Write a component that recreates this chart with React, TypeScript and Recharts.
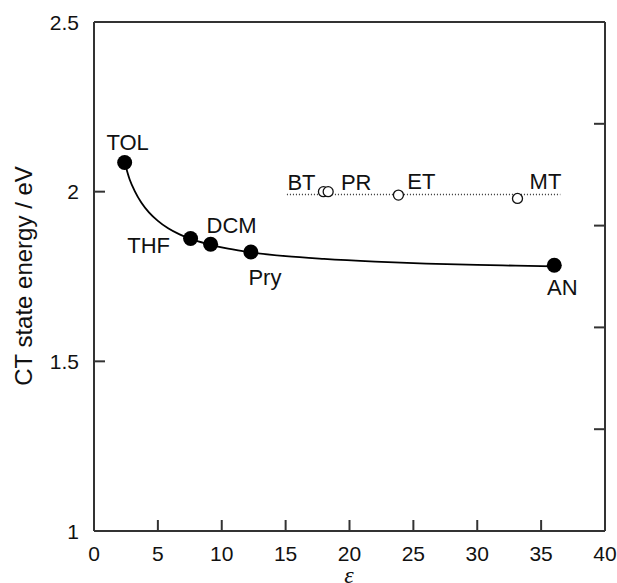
import React from "react";
import {
  ComposedChart, Line, Scatter, XAxis, YAxis,
} from "recharts";

// filled points: solvents on the fitted curve
const solidNames = ["TOL", "THF", "DCM", "Pry", "AN"];
const solidEps = [2.4, 7.56, 9.13, 12.28, 36.03];
const solidEnergy = [2.086, 1.862, 1.845, 1.822, 1.783];

// open points
const openNames = ["BT", "PR", "ET", "MT"];
const openEps = [17.96, 18.33, 23.83, 33.15];
const openEnergy = [2.0, 2.0, 1.99, 1.98];

// fitted curve
const curveEps = [2.4, 2.8, 3.2, 3.7, 4.3, 5, 5.8, 6.7, 7.6, 9, 10.5, 12.3, 15, 18, 22, 26, 30, 33, 36];
const curveEnergy = [2.086, 2.035, 2.001, 1.968, 1.939, 1.914, 1.892, 1.874, 1.86, 1.845, 1.832, 1.821, 1.81, 1.802, 1.794, 1.788, 1.784, 1.782, 1.78];

// dotted level line
const dottedEps = [15.1, 36.5];
const dottedEnergy = [1.992, 1.992];

const xTicks = [0, 5, 10, 15, 20, 25, 30, 35, 40];
const yTicks = [1, 1.5, 2, 2.5];
const rightTicks = [1.3, 1.6, 1.9, 2.2];

// label offsets (px) from each marker
const labelOffset: Record<string, [number, number]> = {
  TOL: [3, -20],
  THF: [-42, 7],
  DCM: [21, -19],
  Pry: [14, 25],
  AN: [8, 22],
  BT: [-22, -10],
  PR: [28, -10],
  ET: [23, -14],
  MT: [28, -17],
};

const FONT = "Liberation Sans, Arial, sans-serif";
const INK = "#333";

const solid = solidNames.map((n, i) => ({ name: n, x: solidEps[i], y: solidEnergy[i] }));
const open = openNames.map((n, i) => ({ name: n, x: openEps[i], y: openEnergy[i] }));
const curve = curveEps.map((x, i) => ({ x, y: curveEnergy[i] }));
const dotted = dottedEps.map((x, i) => ({ x, y: dottedEnergy[i] }));

function PointLabel({ cx, cy, name }: { cx: number; cy: number; name: string }) {
  const [dx, dy] = labelOffset[name] || [0, 0];
  return (
    <text x={cx + dx} y={cy + dy} dy="0.36em" textAnchor="middle" fontFamily={FONT} fontSize={22} fill="#111">
      {name}
    </text>
  );
}

const BottomTick = (props: any) => {
  const x = Number(props.x);
  const y = Number(props.y);
  return (
    <g>
      <line x1={x} x2={x} y1={y - 15} y2={y - 26} stroke={INK} strokeWidth={2} />
      <text x={x} y={y} dy="0.71em" textAnchor="middle" fontFamily={FONT} fontSize={21} fill="#111">
        {props.payload.value}
      </text>
    </g>
  );
};

const LeftTick = (props: any) => {
  const x = Number(props.x);
  const y = Number(props.y);
  return (
    <g>
      <line x1={x + 15} x2={x + 26} y1={y} y2={y} stroke={INK} strokeWidth={2} />
      <text x={x} y={y} dy="0.36em" textAnchor="end" fontFamily={FONT} fontSize={21} fill="#111">
        {props.payload.value}
      </text>
    </g>
  );
};

const RightTick = (props: any) => {
  const x = Number(props.x);
  const y = Number(props.y);
  return <line x1={x} x2={x - 11} y1={y} y2={y} stroke={INK} strokeWidth={2} />;
};

export default function App() {
  return (
    <div style={{ position: "relative", width: 617, height: 583, background: "#fff", overflow: "hidden" }}>
      <style>{"body{margin:0;overflow:hidden}"}</style>
      <ComposedChart width={617} height={583} margin={{ top: 21, right: 11, bottom: 0, left: 0 }}>
        <XAxis xAxisId={0} dataKey="x" type="number" domain={[0, 40]} ticks={xTicks} height={52} allowDataOverflow stroke={INK} strokeWidth={2} tickLine={false} tickSize={0} tickMargin={15} tick={<BottomTick />} />
        <XAxis xAxisId="top" orientation="top" dataKey="x" type="number" domain={[0, 40]} height={1} allowDataOverflow stroke={INK} strokeWidth={2} tickLine={false} tick={false} />
        <YAxis yAxisId={0} type="number" domain={[1, 2.5]} ticks={yTicks} width={94} allowDataOverflow stroke={INK} strokeWidth={2} tickLine={false} tickSize={0} tickMargin={15} tick={<LeftTick />} />
        <YAxis yAxisId="right" orientation="right" type="number" domain={[1, 2.5]} ticks={rightTicks} width={1} allowDataOverflow stroke={INK} strokeWidth={2} tickLine={false} tickSize={0} tickMargin={0} tick={<RightTick />} />
        <Line data={curve} dataKey="y" type="monotone" stroke="#000" strokeWidth={1.8} dot={false} activeDot={false} isAnimationActive={false} />
        <Line data={dotted} dataKey="y" xAxisId="top" yAxisId="right" type="linear" stroke="#333" strokeWidth={1.5} strokeDasharray="1 2" dot={false} activeDot={false} isAnimationActive={false} />
        <Scatter
          data={open}
          dataKey="y"
          isAnimationActive={false}
          shape={(p: any) => (
            <g>
              <circle cx={p.cx} cy={p.cy} r={5} fill="#fff" stroke="#111" strokeWidth={1.3} />
              <PointLabel cx={p.cx} cy={p.cy} name={p.payload.name} />
            </g>
          )}
        />
        <Scatter
          data={solid}
          dataKey="y"
          isAnimationActive={false}
          shape={(p: any) => (
            <g>
              <circle cx={p.cx} cy={p.cy} r={7.5} fill="#000" />
              <PointLabel cx={p.cx} cy={p.cy} name={p.payload.name} />
            </g>
          )}
        />
      </ComposedChart>
      {/* axis titles */}
      <div
        style={{
          position: "absolute", left: 24 - 150, top: 276 - 15, width: 300, height: 30,
          lineHeight: "30px", textAlign: "center", transform: "rotate(-90deg)",
          fontFamily: FONT, fontSize: 24, color: "#111", whiteSpace: "nowrap",
        }}
      >
        CT state energy / eV
      </div>
      <div
        style={{
          position: "absolute", left: 349 - 20, top: 563, width: 40, height: 24,
          lineHeight: "24px", textAlign: "center",
          fontFamily: "Liberation Serif, serif", fontStyle: "italic", fontSize: 24, color: "#111",
        }}
      >
        ε
      </div>
    </div>
  );
}
